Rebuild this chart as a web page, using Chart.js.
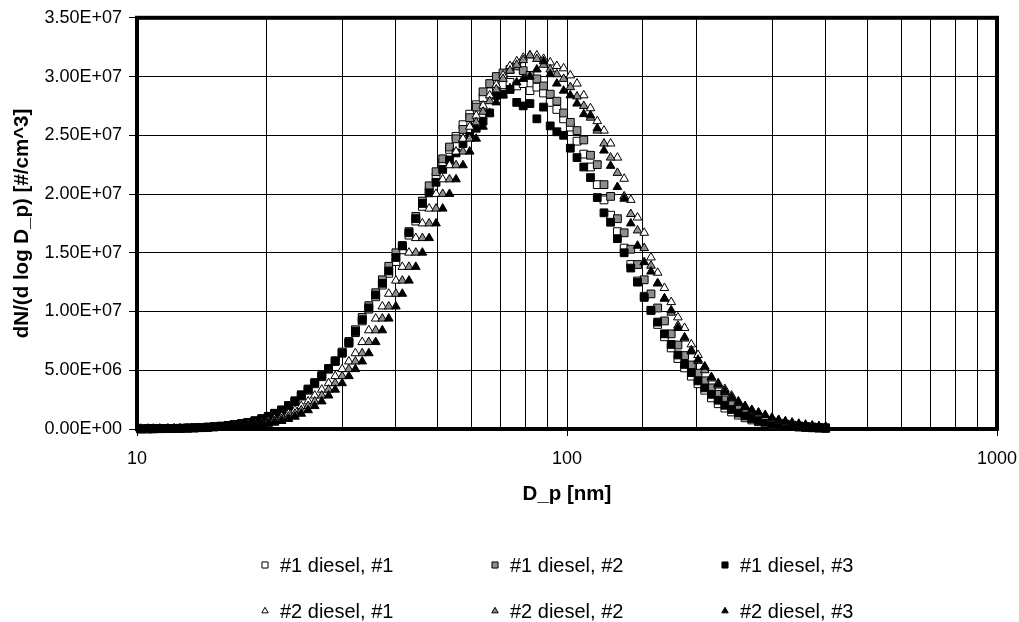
<!DOCTYPE html>
<html>
<head>
<meta charset="UTF-8"/>
<title>Diesel particle size distribution</title>
<script src="https://cdn.jsdelivr.net/npm/chart.js@4.4.0/dist/chart.umd.min.js"></script>
<style>
    body { margin: 0; background: #fff; }
    #chartBox { width: 1019px; height: 622px; }
</style>
</head>
<body>
<div id="chartBox">
    <canvas id="sizeChart" width="1019" height="622"></canvas>
</div>
<script>
    // SMPS channel midpoints, mobility diameter [nm]
    var diameters = [
        10.2, 10.6, 10.9, 11.3, 11.8, 12.2, 12.6, 13.1, 13.6, 14.1,
        14.6, 15.1, 15.7, 16.3, 16.8, 17.5, 18.1, 18.8, 19.5, 20.2,
        20.9, 21.7, 22.5, 23.3, 24.1, 25.0, 25.9, 26.9, 27.9, 28.9,
        30.0, 31.1, 32.2, 33.4, 34.6, 35.9, 37.2, 38.5, 40.0, 41.4,
        42.9, 44.5, 46.1, 47.8, 49.6, 51.4, 53.3, 55.2, 57.3, 59.4,
        61.5, 63.8, 66.1, 68.5, 71.0, 73.7, 76.4, 79.1, 82.0, 85.1,
        88.2, 91.4, 94.7, 98.2, 101.8, 105.5, 109.4, 113.4, 117.6, 121.9,
        126.3, 131.0, 135.8, 140.7, 145.9, 151.2, 156.8, 162.5, 168.5, 174.7,
        181.1, 187.7, 194.6, 201.7, 209.1, 216.7, 224.7, 232.9, 241.4, 250.3,
        259.5, 269.0, 278.8, 289.0, 299.6, 310.6, 322.0, 333.8, 346.0, 358.7,
        371.8, 385.4, 399.5
    ];

    // dN/dlogDp, in millions of #/cm^3 (one value per channel)
    var diesel1_run1 = [
        0.01, 0.02, 0.02, 0.03, 0.04, 0.05, 0.06, 0.08, 0.10, 0.13,
        0.16, 0.20, 0.24, 0.30, 0.37, 0.46, 0.56, 0.70, 0.88, 1.08,
        1.34, 1.62, 2.00, 2.40, 2.92, 3.40, 3.95, 4.55, 5.15, 5.80,
        6.50, 7.30, 8.20, 9.20, 10.20, 11.25, 12.25, 13.25, 14.25, 15.25,
        16.50, 17.70, 18.95, 20.25, 21.45, 22.65, 23.80, 24.90, 25.90, 26.80,
        27.60, 28.20, 28.70, 29.10, 29.30, 29.50, 29.20, 29.40, 28.80, 29.10,
        28.60, 27.80, 27.20, 26.40, 25.70, 24.50, 23.40, 22.30, 20.80, 19.50,
        18.20, 16.80, 15.40, 14.00, 12.60, 11.30, 10.10, 8.90, 7.85, 6.90,
        6.00, 5.20, 4.50, 3.85, 3.30, 2.65, 2.15, 1.78, 1.45, 1.18,
        0.95, 0.77, 0.62, 0.50, 0.40, 0.32, 0.26, 0.21, 0.17, 0.13,
        0.10, 0.08, 0.06
    ];
    var diesel1_run2 = [
        0.01, 0.01, 0.02, 0.03, 0.03, 0.04, 0.05, 0.07, 0.09, 0.11,
        0.14, 0.18, 0.22, 0.28, 0.35, 0.43, 0.53, 0.67, 0.84, 1.04,
        1.28, 1.58, 1.93, 2.33, 2.80, 3.30, 3.85, 4.45, 5.10, 5.80,
        6.55, 7.45, 8.45, 9.50, 10.50, 11.60, 12.70, 13.85, 15.00, 15.60,
        16.80, 18.10, 19.40, 20.70, 21.90, 23.00, 24.00, 24.70, 25.50, 26.50,
        27.40, 28.70, 29.40, 30.00, 30.30, 30.60, 30.90, 30.50, 30.10, 29.80,
        29.20, 28.50, 27.90, 26.90, 26.10, 25.40, 24.60, 23.30, 22.50, 20.80,
        19.80, 17.90, 16.70, 15.30, 14.00, 12.70, 11.50, 10.30, 9.20, 8.10,
        7.15, 6.25, 5.45, 4.75, 4.10, 3.50, 2.95, 2.48, 2.06, 1.70,
        1.40, 1.14, 0.93, 0.76, 0.61, 0.49, 0.40, 0.32, 0.26, 0.21,
        0.17, 0.13, 0.10
    ];
    var diesel1_run3 = [
        0.01, 0.02, 0.02, 0.03, 0.04, 0.05, 0.06, 0.08, 0.10, 0.12,
        0.15, 0.19, 0.24, 0.29, 0.36, 0.45, 0.55, 0.69, 0.86, 1.06,
        1.31, 1.61, 1.96, 2.37, 2.86, 3.38, 3.92, 4.52, 5.12, 5.75,
        6.45, 7.35, 8.30, 9.30, 10.30, 11.40, 12.40, 13.45, 14.60, 15.60,
        16.70, 17.90, 19.20, 20.10, 21.00, 22.10, 22.90, 23.50, 24.30, 24.90,
        25.60, 26.20, 26.90, 28.40, 28.50, 28.90, 27.80, 27.50, 27.70, 26.40,
        27.40, 25.80, 25.30, 25.00, 23.90, 23.10, 22.30, 21.40, 19.70, 18.40,
        17.60, 16.20, 15.00, 13.70, 12.50, 11.20, 10.10, 9.10, 8.10, 7.20,
        6.30, 5.50, 4.80, 4.10, 3.50, 2.95, 2.45, 2.02, 1.66, 1.35,
        1.10, 0.89, 0.72, 0.58, 0.46, 0.37, 0.30, 0.24, 0.19, 0.15,
        0.12, 0.09, 0.07
    ];
    var diesel2_run1 = [
        0.01, 0.01, 0.01, 0.02, 0.02, 0.03, 0.04, 0.05, 0.06, 0.08,
        0.10, 0.12, 0.15, 0.19, 0.23, 0.29, 0.36, 0.44, 0.54, 0.68,
        0.85, 1.05, 1.30, 1.60, 1.95, 2.35, 2.85, 3.35, 3.90, 4.50,
        5.10, 5.75, 6.45, 7.40, 8.40, 9.40, 10.43, 11.51, 12.63, 13.80,
        15.01, 16.25, 17.50, 18.76, 20.01, 21.25, 22.45, 23.61, 24.71, 25.73,
        26.68, 27.52, 28.40, 29.30, 30.10, 30.90, 31.30, 31.60, 31.80, 31.80,
        31.50, 31.20, 30.90, 30.70, 30.10, 29.40, 28.40, 27.30, 26.20, 25.40,
        24.30, 23.10, 21.30, 19.50, 18.00, 16.70, 14.60, 13.30, 12.00, 10.80,
        9.50, 8.60, 7.20, 6.30, 5.30, 4.40, 3.90, 3.40, 2.85, 2.35,
        1.95, 1.62, 1.36, 1.12, 0.93, 0.77, 0.65, 0.55, 0.45, 0.37,
        0.30, 0.24, 0.19
    ];
    var diesel2_run2 = [
        0.01, 0.01, 0.01, 0.01, 0.02, 0.02, 0.03, 0.04, 0.05, 0.06,
        0.08, 0.10, 0.12, 0.15, 0.19, 0.23, 0.29, 0.36, 0.44, 0.54,
        0.68, 0.85, 1.05, 1.30, 1.60, 1.95, 2.35, 2.85, 3.35, 3.90,
        4.50, 5.10, 5.75, 6.45, 7.40, 8.40, 9.40, 10.43, 11.51, 12.63,
        13.80, 15.01, 16.25, 17.50, 18.76, 20.01, 21.25, 22.45, 23.61, 24.71,
        26.10, 27.00, 27.90, 28.90, 29.80, 30.50, 31.00, 31.40, 31.80, 31.50,
        31.00, 30.60, 30.20, 29.80, 29.10, 28.30, 27.50, 26.50, 25.40, 24.30,
        23.10, 21.80, 19.80, 18.30, 16.90, 15.40, 13.90, 12.40, 11.10, 9.90,
        8.80, 7.70, 6.70, 5.80, 5.00, 4.30, 3.70, 3.15, 2.65, 2.20,
        1.85, 1.52, 1.25, 1.02, 0.83, 0.67, 0.54, 0.44, 0.35, 0.28,
        0.22, 0.18, 0.14
    ];
    var diesel2_run3 = [
        0.01, 0.01, 0.01, 0.01, 0.01, 0.02, 0.02, 0.03, 0.04, 0.05,
        0.06, 0.08, 0.10, 0.12, 0.15, 0.19, 0.23, 0.29, 0.36, 0.44,
        0.54, 0.68, 0.85, 1.05, 1.30, 1.60, 1.95, 2.35, 2.85, 3.35,
        3.90, 4.50, 5.10, 5.75, 6.45, 7.40, 8.40, 9.40, 10.43, 11.51,
        12.63, 13.80, 15.01, 16.25, 17.50, 18.76, 20.01, 21.25, 22.45, 23.61,
        24.71, 25.73, 26.90, 27.80, 28.40, 29.00, 29.50, 29.80, 30.00, 30.60,
        31.30, 30.20, 29.40, 28.80, 28.40, 27.70, 26.80, 26.70, 25.60, 23.70,
        22.40, 20.60, 19.60, 17.50, 15.60, 14.20, 13.40, 12.40, 11.10, 10.10,
        8.60, 7.80, 6.60, 5.90, 5.30, 4.40, 3.80, 3.25, 2.70, 2.30,
        1.90, 1.60, 1.40, 1.20, 0.95, 0.76, 0.62, 0.50, 0.40, 0.32,
        0.26, 0.20, 0.16
    ];

    var seriesNames = ['#1 diesel, #1', '#1 diesel, #2', '#1 diesel, #3',
                       '#2 diesel, #1', '#2 diesel, #2', '#2 diesel, #3'];
    var seriesValues = [diesel1_run1, diesel1_run2, diesel1_run3,
                        diesel2_run1, diesel2_run2, diesel2_run3];

    // axis labels
    var xTickLabels = [10, 100, 1000];
    var yMax = 3.5e7;
    var yStep = 5e6;

    // look of the markers
    var markerShape = ['rect', 'rect', 'rect', 'triangle', 'triangle', 'triangle'];
    var markerFill = ['#ffffff', '#8e8e8e', '#000000', '#ffffff', '#8e8e8e', '#000000'];

    Chart.defaults.font.family = '"Liberation Sans", Arial, sans-serif';
    Chart.defaults.color = '#000';

    // 3.50E+07 style labels
    function sciLabel(v) {
        if (v === 0) return '0.00E+00';
        var e = Math.floor(Math.log10(v) + 1e-9);
        var m = v / Math.pow(10, e);
        return m.toFixed(2) + 'E+' + (e < 10 ? '0' : '') + e;
    }

    function isDecade(v) {
        var l = Math.log10(v);
        return Math.abs(l - Math.round(l)) < 1e-6;
    }

    var datasets = seriesNames.map(function (name, i) {
        return {
            label: name,
            data: diameters.map(function (d, j) {
                return { x: d, y: seriesValues[i][j] * 1e6 };
            }),
            pointStyle: markerShape[i],
            pointRadius: markerShape[i] === 'rect' ? 5.5 : 5,
            backgroundColor: markerFill[i],
            borderColor: '#000',
            borderWidth: 1,
            showLine: false,
            clip: false,
            order: 5 - i   // later series on top, like the original
        };
    });

    // thick frame around the plot area
    var framePlugin = {
        id: 'plotFrame',
        beforeDatasetsDraw: function (chart) {
            var a = chart.chartArea, ctx = chart.ctx;
            ctx.save();
            ctx.strokeStyle = '#000';
            ctx.lineWidth = 4;
            ctx.strokeRect(a.left, a.top, a.right - a.left, a.bottom - a.top);
            ctx.restore();
        }
    };

    // legend in 3 columns x 2 rows under the x axis title
    var gridLegend = {
        id: 'gridLegend',
        afterDraw: function (chart) {
            var ctx = chart.ctx;
            var colX = [265, 495, 725];
            var rowY = [565, 611];
            ctx.save();
            chart.data.datasets.forEach(function (ds, i) {
                var x = colX[i % 3], y = rowY[Math.floor(i / 3)];
                ctx.fillStyle = ds.backgroundColor;
                ctx.strokeStyle = '#000';
                ctx.lineWidth = 1;
                Chart.helpers.drawPoint(ctx, {
                    pointStyle: ds.pointStyle,
                    radius: ds.pointStyle === 'rect' ? 4.3 : 3.7,
                    rotation: 0,
                    borderWidth: 1
                }, x, y);
                ctx.fillStyle = '#000';
                ctx.font = '20px "Liberation Sans", Arial, sans-serif';
                ctx.textAlign = 'left';
                ctx.textBaseline = 'middle';
                ctx.fillText(ds.label, x + 15, y + 1);
            });
            ctx.restore();
        }
    };

    var ctx = document.getElementById('sizeChart').getContext('2d');
    var sizeChart = new Chart(ctx, {
        type: 'scatter',
        data: { datasets: datasets },
        plugins: [framePlugin, gridLegend],
        options: {
            responsive: false,
            animation: false,
            devicePixelRatio: 1,
            events: [],
            layout: { padding: { top: 17, right: 0, left: 0, bottom: 0 } },
            plugins: {
                legend: { display: false },
                tooltip: { enabled: false }
            },
            scales: {
                x: {
                    type: 'logarithmic',
                    min: 10,
                    max: 1000,
                    afterFit: function (s) {
                        s.height = 193;
                        s.paddingRight = 22;
                    },
                    border: { display: false },
                    grid: {
                        color: '#000',
                        lineWidth: 1,
                        tickLength: 7,
                        tickColor: function (c) {
                            return c.tick && isDecade(c.tick.value) ? '#000' : 'rgba(0,0,0,0)';
                        }
                    },
                    ticks: {
                        autoSkip: false,
                        maxRotation: 0,
                        padding: 12,
                        font: { size: 18 },
                        callback: function (v) {
                            return xTickLabels.some(function (t) { return Math.abs(t - v) < 1e-6; }) ? String(v) : '';
                        }
                    },
                    title: {
                        display: true,
                        text: 'D_p [nm]',
                        font: { size: 20.5, weight: 'bold' },
                        padding: { top: 0, bottom: 115 }
                    }
                },
                y: {
                    min: 0,
                    max: yMax,
                    afterFit: function (s) { s.width = 137; },
                    border: { display: false },
                    grid: { color: '#000', lineWidth: 1, tickLength: 8, tickColor: '#000' },
                    ticks: {
                        stepSize: yStep,
                        padding: 7,
                        font: { size: 18 },
                        callback: sciLabel
                    },
                    title: {
                        display: true,
                        text: 'dN/(d log D_p) [#/cm^3]',
                        font: { size: 20.5, weight: 'bold' },
                        padding: { top: 10, bottom: 0 }
                    }
                }
            }
        }
    });
</script>
</body>
</html>
